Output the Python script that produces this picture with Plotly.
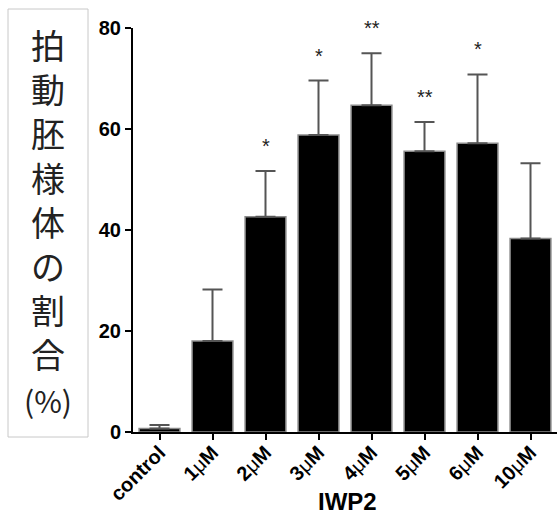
import plotly.graph_objects as go

# Beating embryoid body ratio by IWP2 concentration
categories = ["control", "1μM", "2μM", "3μM", "4μM", "5μM", "6μM", "10μM"]
means = [0.7, 18.0, 42.6, 58.8, 64.7, 55.6, 57.2, 38.3]
sem = [0.7, 10.2, 9.1, 10.8, 10.3, 5.8, 13.6, 14.9]
signif = ["", "", "*", "*", "**", "**", "*", ""]
y_ticks = [0, 20, 40, 60, 80]
y_title_chars = ["拍", "動", "胚", "様", "体", "の", "割", "合"]
x_title = "IWP2"

W, H = 557, 518
L, R, T, B = 133, 0, 28, 86
plot_w = W - L - R
plot_h = H - T - B

# tick labels: the micro sign is set in a lighter weight
tick_text = [c.replace("μ", "<span style='font-weight:normal'>μ</span>") for c in categories]

fig = go.Figure()
fig.add_trace(go.Bar(
    x=categories,
    y=means,
    width=0.77,
    marker=dict(color="black", line=dict(color="#8a8a8a", width=1.5)),
    error_y=dict(type="data", symmetric=False, array=sem,
                 arrayminus=[0] * len(sem),
                 color="#555555", thickness=2, width=10),
))

# significance marks above the error bars
for cat, m, e, s in zip(categories, means, sem, signif):
    if s:
        fig.add_annotation(x=cat, y=m + e, text=s, showarrow=False,
                           yanchor="middle", yshift=25,
                           font=dict(family="Liberation Sans", size=20, color="#222222"))


def px_x(p):
    return (p - L) / plot_w


def px_y(p):
    return (H - B - p) / plot_h


# boxed vertical y-axis title
fig.add_shape(type="rect", xref="paper", yref="paper",
              x0=px_x(8), x1=px_x(88), y0=px_y(437), y1=px_y(9),
              line=dict(color="#c8c8c8", width=1), fillcolor="white")
title_text = "<br>".join(y_title_chars) + "<br><span style='font-size:30px'>(%)</span>"
fig.add_annotation(xref="paper", yref="paper", x=px_x(48), y=px_y(221),
                   text=title_text, showarrow=False,
                   xanchor="center", yanchor="middle", align="center",
                   font=dict(family="Noto Sans CJK JP", size=34, color="#222222"))

# x-axis title
fig.add_annotation(xref="paper", yref="paper", x=px_x(347), y=px_y(501),
                   text=f"<b>{x_title}</b>", showarrow=False,
                   xanchor="center", yanchor="middle",
                   font=dict(family="Liberation Sans", size=24, color="black"))

fig.update_layout(
    width=W, height=H,
    margin=dict(l=L, r=R, t=T, b=B),
    plot_bgcolor="white", paper_bgcolor="white",
    showlegend=False,
    xaxis=dict(
        range=[-0.5, 7.5],
        tickvals=categories, ticktext=tick_text,
        showline=True, linecolor="black", linewidth=2,
        ticks="outside", ticklen=6, tickwidth=2, tickcolor="black",
        tickangle=-45, ticklabelstandoff=-7,
        tickfont=dict(family="Liberation Sans", size=20, color="black", weight="bold"),
        showgrid=False, zeroline=False,
    ),
    yaxis=dict(
        range=[0, 80],
        tickvals=y_ticks,
        showline=True, linecolor="black", linewidth=2,
        ticks="outside", ticklen=6, tickwidth=2, tickcolor="black",
        tickfont=dict(family="Liberation Sans", size=20, color="black", weight="bold"),
        showgrid=False, zeroline=False,
    ),
)

fig.write_html("out.html")
